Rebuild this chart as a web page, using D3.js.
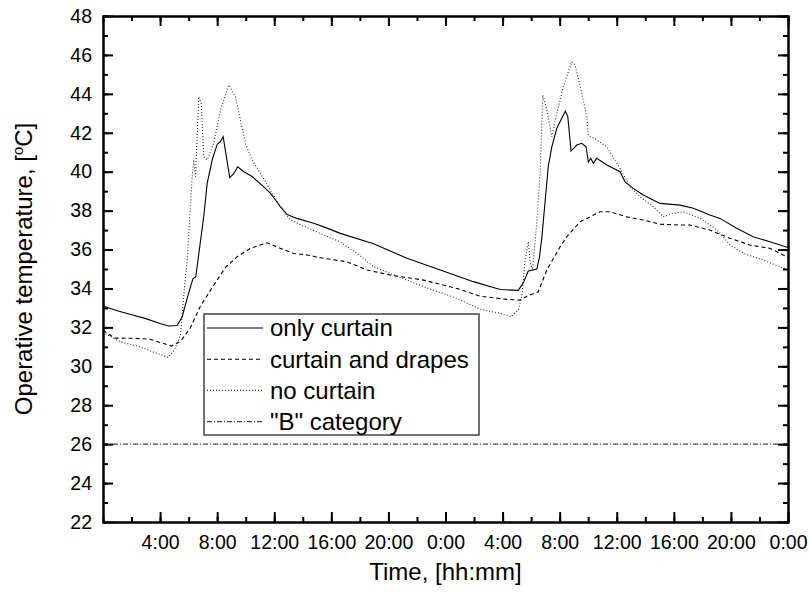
<!doctype html>
<html>
<head>
<style>
  body { margin: 0; background: #fff; }
  text { font-family: "Liberation Sans", Arial, sans-serif; fill: #000; }
  .axis path, .axis line { stroke: #000; stroke-width: 2; }
  .axis text { font-size: 19.5px; }
</style>
<script src="https://d3js.org/d3.v7.min.js"></script>
</head>
<body>
<svg width="809" height="597"></svg>
<script>
// time in hours from start, operative temperature in degC
var onlyCurtain = [[0,33.1],[1,32.85],[2,32.65],[3,32.45],[4,32.2],[4.6,32.07],[5.2,32.1],[5.55,32.55],[5.9,33.5],[6.3,34.5],[6.5,34.6],[6.7,35.7],[7.06,37.7],[7.3,39.4],[7.65,40.6],[8.0,41.4],[8.23,41.55],[8.42,41.8],[8.53,41.3],[8.88,39.7],[9.16,39.9],[9.44,40.25],[9.86,40.0],[10.45,39.75],[11.15,39.3],[11.73,38.9],[12.43,38.2],[12.9,37.8],[13.6,37.6],[14.76,37.35],[15.7,37.1],[16.63,36.83],[18.96,36.3],[21.3,35.55],[23.63,34.95],[25.96,34.35],[27.83,33.95],[29.1,33.9],[29.46,34.3],[29.8,34.9],[30.4,35.0],[30.58,35.6],[30.75,36.6],[30.86,37.5],[31.2,40.26],[31.45,41.28],[31.8,42.23],[32.15,42.74],[32.4,43.12],[32.57,42.83],[32.8,41.06],[33.2,41.37],[33.55,41.46],[33.85,41.28],[34.01,40.5],[34.18,40.69],[34.36,40.43],[34.6,40.69],[35.3,40.34],[36.23,40.0],[36.58,39.48],[37.16,39.14],[37.86,38.8],[39.03,38.37],[40.43,38.28],[41.37,38.12],[42.53,37.77],[43.23,37.6],[44.4,37.09],[45.56,36.66],[46.73,36.4],[48,36.1]];

var curtainDrapes = [[0,31.85],[0.8,31.45],[2.2,31.44],[3.3,31.39],[4.2,31.18],[4.8,31.04],[5.45,31.3],[6.1,31.95],[6.83,33.1],[7.7,34.1],[8.6,35.1],[9.4,35.63],[10.33,36.06],[11.5,36.35],[12.43,36.06],[13.36,35.8],[14.3,35.72],[15.46,35.55],[17.1,35.37],[18.5,34.95],[20.13,34.69],[22.46,34.43],[24.8,34.0],[26.43,33.6],[28.3,33.44],[29.23,33.4],[29.7,33.6],[30.5,33.83],[31.1,34.95],[32.03,36.14],[32.5,36.66],[33.43,37.43],[34.13,37.68],[34.83,37.94],[35.53,37.94],[36.7,37.68],[37.86,37.52],[39.03,37.3],[40.43,37.26],[41.1,37.26],[42.53,37.0],[43.93,36.58],[45.33,36.23],[46.73,36.06],[48,35.6]];

var noCurtain = [[0,31.75],[1.2,31.26],[2.6,31.0],[3.75,30.67],[4.55,30.46],[5.0,30.84],[5.43,31.6],[5.7,34.0],[5.9,35.46],[6.25,39.74],[6.36,40.6],[6.48,39.74],[6.71,43.85],[6.88,43.51],[7.06,40.77],[7.3,40.6],[7.76,41.46],[8.23,43.17],[8.81,44.45],[9.28,43.85],[9.63,42.66],[9.98,41.46],[10.45,40.6],[11.03,39.92],[11.73,39.06],[12.43,38.2],[13.13,37.52],[14.06,37.2],[15.0,36.9],[15.93,36.6],[16.63,36.4],[17.1,36.14],[17.8,35.8],[18.96,35.12],[20.13,34.77],[22.46,34.09],[24.8,33.49],[26.43,32.93],[27.83,32.72],[28.6,32.55],[29.1,32.9],[29.35,33.6],[29.58,35.46],[29.81,36.4],[29.93,35.37],[30.1,34.95],[30.4,37.43],[30.63,39.92],[30.82,43.94],[31.1,43.17],[31.45,41.8],[31.8,43.0],[32.26,44.37],[32.85,45.65],[33.08,45.48],[33.55,44.03],[33.9,42.83],[34.0,41.88],[34.6,41.63],[35.3,41.28],[36.23,40.17],[36.93,39.23],[37.63,38.71],[38.56,38.2],[39.26,37.69],[39.96,37.86],[40.67,37.94],[41.86,37.6],[43.03,37.0],[43.96,36.23],[44.9,35.8],[46.26,35.46],[48,34.95]];

var bCategory = [[0,26],[48,26]];

var xTicks = [4,8,12,16,20,24,28,32,36,40,44,48];
var yTicks = [22,24,26,28,30,32,34,36,38,40,42,44,46,48];

var series = [
  {name: "only curtain", data: onlyCurtain, dash: null, color: "#000"},
  {name: "curtain and drapes", data: curtainDrapes, dash: "4,3", color: "#000"},
  {name: "no curtain", data: noCurtain, dash: "1,2", color: "#333"},
  {name: "\"B\" category", data: bCategory, dash: "5,2,1,2", color: "#444"}
];

var svg = d3.select("svg"),
    pLeft = 103, pRight = 788, pTop = 16, pBottom = 522;

var x = d3.scaleLinear().domain([0, 48]).range([pLeft, pRight]),
    y = d3.scaleLinear().domain([22, 48]).range([pBottom, pTop]);

var line = d3.line()
    .x(function(d) { return x(d[0]); })
    .y(function(d) { return y(d[1]); });

svg.append("g").selectAll("path")
   .data(series)
   .enter().append("path")
   .attr("d", function(d) { return line(d.data); })
   .attr("fill", "none")
   .attr("stroke", function(d) { return d.color; })
   .attr("stroke-width", 1.1)
   .attr("stroke-dasharray", function(d) { return d.dash; });

// minor ticks
var minorX = d3.range(2, 48, 2), minorY = d3.range(23, 48, 1);
svg.append("g").attr("class", "axis").attr("transform", "translate(0," + pBottom + ")")
   .call(d3.axisBottom(x).tickValues(minorX).tickSize(-5).tickFormat(""));
svg.append("g").attr("class", "axis").attr("transform", "translate(0," + pTop + ")")
   .call(d3.axisTop(x).tickValues(minorX).tickSize(-5).tickFormat(""));
svg.append("g").attr("class", "axis").attr("transform", "translate(" + pLeft + ",0)")
   .call(d3.axisLeft(y).tickValues(minorY).tickSize(-5).tickFormat(""));
svg.append("g").attr("class", "axis").attr("transform", "translate(" + pRight + ",0)")
   .call(d3.axisRight(y).tickValues(minorY).tickSize(-5).tickFormat(""));

// major ticks
svg.append("g").attr("class", "axis").attr("transform", "translate(0," + pBottom + ")")
   .call(d3.axisBottom(x).tickValues(xTicks).tickSizeInner(-10).tickSizeOuter(0).tickPadding(13)
     .tickFormat(function(d) { return (d % 24) + ":00"; }));
svg.append("g").attr("class", "axis").attr("transform", "translate(0," + pTop + ")")
   .call(d3.axisTop(x).tickValues(xTicks).tickSizeInner(-10).tickSizeOuter(0).tickFormat(""));
svg.append("g").attr("class", "axis").attr("transform", "translate(" + pLeft + ",0)")
   .call(d3.axisLeft(y).tickValues(yTicks).tickSizeInner(-10).tickSizeOuter(0).tickPadding(11));
svg.append("g").attr("class", "axis").attr("transform", "translate(" + pRight + ",0)")
   .call(d3.axisRight(y).tickValues(yTicks).tickSizeInner(-10).tickSizeOuter(0).tickFormat(""));

svg.selectAll(".axis text").attr("fill", "#000");

// axis titles
svg.append("text")
   .attr("x", (pLeft + pRight) / 2).attr("y", 580)
   .attr("text-anchor", "middle").attr("font-size", 24)
   .text("Time, [hh:mm]");

var yt = svg.append("text")
   .attr("transform", "translate(32," + ((pTop + pBottom) / 2) + ") rotate(-90)")
   .attr("text-anchor", "middle").attr("font-size", 24);
yt.append("tspan").text("Operative temperature, [");
yt.append("tspan").attr("font-size", 15).attr("dy", -9).text("o");
yt.append("tspan").attr("dy", 9).text("C]");

// legend
var lg = svg.append("g");
lg.append("rect")
  .attr("x", 204).attr("y", 314).attr("width", 275).attr("height", 121)
  .attr("fill", "#fff").attr("stroke", "#444").attr("stroke-width", 1.5);
var rows = lg.selectAll("g.row").data(series).enter().append("g")
  .attr("transform", function(d, i) { return "translate(0," + (328 + i * 31.2) + ")"; });
rows.append("line")
  .attr("x1", 207).attr("x2", 263)
  .attr("stroke", function(d) { return d.color; })
  .attr("stroke-width", 1.1)
  .attr("stroke-dasharray", function(d) { return d.dash; });
rows.append("text")
  .attr("x", 270).attr("dy", "0.35em").attr("font-size", 24)
  .text(function(d) { return d.name; });
</script>
</body>
</html>
